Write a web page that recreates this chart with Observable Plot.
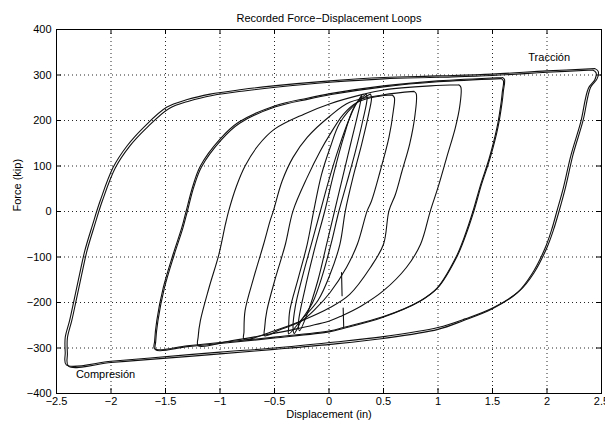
<!DOCTYPE html>
<html>
<head>
<meta charset="utf-8">
<script src="https://cdn.jsdelivr.net/npm/d3@7"></script>
<script src="https://cdn.jsdelivr.net/npm/@observablehq/plot@0.6"></script>
<style>
  html, body { margin: 0; padding: 0; background: #fff; }
</style>
</head>
<body>
<div id="chart"></div>
<script>
// ---- Tick values ----
const xTicks = [-2.5, -2, -1.5, -1, -0.5, 0, 0.5, 1, 1.5, 2, 2.5];
const yTicks = [-400, -300, -200, -100, 0, 100, 200, 300, 400];

// ---- Texts ----
const title = "Recorded Force\u2212Displacement Loops";
const xLabel = "Displacement (in)";
const yLabel = "Force (kip)";
const annotations = [
  {x: 2.02, y: 338, text: "Tracción"},
  {x: -2.05, y: -359, text: "Compresión"}
];

// ---- Loops: [displacement (in), force (kip)] ----
const loopOuterA = [[2.44,314],[2.47,308],[2.46,292],[2.40,273],[2.33,199],[2.24,126],[2.17,53],[2.11,0],[2.06,-40],[2.0,-79],[1.88,-135],[1.75,-174],[1.51,-211],[1.25,-236],[1.0,-255],[0.5,-275],[0.01,-288],[-0.5,-300],[-1.0,-309],[-1.64,-322],[-2.0,-329],[-2.41,-337],[-2.42,-310],[-2.42,-277],[-2.38,-240],[-2.34,-196],[-2.29,-140],[-2.24,-86],[-2.17,-30],[-2.10,23],[-1.98,97],[-1.85,145],[-1.70,185],[-1.49,229],[-1.30,246],[-1.09,258],[-0.80,268],[-0.51,276],[0.01,287],[0.5,294.5],[1.0,298],[1.5,302],[2.0,309],[2.44,314]];
const loopOuterB = [[2.42,311],[2.45,305],[2.44,290],[2.38,271],[2.31,197],[2.22,124],[2.15,52],[2.09,0],[2.04,-42],[1.98,-82],[1.86,-138],[1.73,-178],[1.49,-215],[1.23,-240],[1.0,-259],[0.5,-279],[0.01,-292],[-0.5,-303],[-1.0,-313],[-1.64,-325],[-2.0,-332],[-2.39,-340],[-2.40,-312],[-2.40,-278],[-2.36,-240],[-2.32,-196],[-2.27,-140],[-2.22,-86],[-2.15,-30],[-2.08,23],[-1.96,96],[-1.83,143],[-1.68,182],[-1.47,226],[-1.28,243],[-1.07,255],[-0.78,265],[-0.49,273],[0.01,284],[0.5,291.5],[1.0,295],[1.5,299],[2.0,306],[2.42,311]];
const loop16A = [[1.59,294.5],[1.61,290],[1.60,265],[1.59,243],[1.55,185],[1.48,119],[1.40,60],[1.33,1.5],[1.25,-55],[1.17,-101],[1.0,-167],[0.84,-196],[0.5,-231],[0.13,-255],[0.01,-262],[-0.5,-276],[-1.0,-288],[-1.3,-295],[-1.60,-302],[-1.60,-285],[-1.58,-240],[-1.52,-167],[-1.43,-94],[-1.35,-35],[-1.31,1.5],[-1.25,55],[-1.18,100],[-1.0,159],[-0.83,196],[-0.5,232],[-0.2,249],[0.01,259],[0.5,276],[1.0,287],[1.59,294.5]];
const loop16B = [[1.58,292],[1.60,287],[1.59,263],[1.58,241],[1.54,183],[1.47,117],[1.39,58],[1.32,0],[1.24,-57],[1.16,-103],[0.99,-169],[0.83,-198],[0.49,-233],[0.13,-257],[0.01,-264],[-0.5,-278],[-1.0,-290],[-1.3,-297],[-1.59,-304],[-1.59,-286],[-1.57,-241],[-1.51,-168],[-1.42,-95],[-1.34,-36],[-1.30,0],[-1.24,54],[-1.17,98],[-0.99,157],[-0.82,194],[-0.49,230],[-0.19,247],[0.02,257],[0.5,274],[1.0,285],[1.58,292]];
const loop12 = [[1.19,278.5],[1.21,273],[1.20,232],[1.16,185],[1.08,119],[1.0,53],[0.93,1.5],[0.84,-72],[0.71,-123],[0.5,-174],[0.3,-207],[0.12,-229],[0.01,-240],[-0.3,-258],[-0.6,-272],[-0.9,-284],[-1.20,-295],[-1.20,-275],[-1.18,-240],[-1.10,-167],[-1.01,-94],[-0.95,-28],[-0.92,1.5],[-0.85,55],[-0.77,100],[-0.65,145],[-0.5,181],[-0.23,214],[0.01,237],[0.32,258],[0.5,267],[0.93,276],[1.19,278.5]];
const loop08 = [[0.78,264],[0.80,259],[0.79,214],[0.74,148],[0.67,89],[0.61,38],[0.55,1.5],[0.50,-72],[0.38,-123],[0.19,-182],[0.01,-211],[-0.25,-240],[-0.5,-262],[-0.78,-281],[-0.78,-265],[-0.77,-218],[-0.69,-145],[-0.60,-72],[-0.54,-20],[-0.51,1.5],[-0.43,67],[-0.33,119],[-0.2,163],[0.01,210],[0.19,240],[0.5,256.5],[0.78,264]];
const loop06 = [[0.58,256],[0.60,250],[0.59,221],[0.55,163],[0.47,89],[0.39,23],[0.35,1.5],[0.26,-72],[0.16,-123],[0.01,-178],[-0.12,-213],[-0.25,-240],[-0.45,-260],[-0.59,-273],[-0.59,-255],[-0.57,-218],[-0.49,-145],[-0.40,-72],[-0.33,1.5],[-0.2,75],[-0.08,133],[0.01,170],[0.13,213],[0.26,240],[0.45,253],[0.58,256]];
const loop04 = [[0.38,258],[0.39,250],[0.37,221],[0.30,148],[0.22,75],[0.15,1.5],[0.10,-72],[0.01,-138],[-0.10,-195],[-0.25,-237],[-0.37,-269],[-0.37,-255],[-0.36,-218],[-0.28,-145],[-0.20,-72],[-0.14,1.5],[-0.07,80],[0.01,140],[0.10,195],[0.26,240],[0.38,258]];
const loop03 = [[0.34,258],[0.35,250],[0.31,200],[0.24,130],[0.16,60],[0.09,0],[0.02,-70],[-0.06,-140],[-0.15,-200],[-0.25,-238],[-0.32,-268],[-0.33,-255],[-0.31,-210],[-0.24,-140],[-0.16,-70],[-0.08,0],[0.0,70],[0.09,140],[0.18,200],[0.26,240],[0.34,258]];
const loop02 = [[0.30,255],[0.28,230],[0.20,150],[0.12,70],[0.05,0],[-0.02,-70],[-0.10,-150],[-0.20,-225],[-0.27,-262],[-0.28,-245],[-0.22,-170],[-0.13,-80],[-0.04,0],[0.04,80],[0.13,160],[0.22,225],[0.30,255]];
const stepA = [[0.115,-134],[0.12,-185]];
const stepB = [[0.13,-212],[0.135,-255]];

const loops = {loopOuterA, loopOuterB, loop16A, loop16B, loop12, loop08, loop06, loop04, loop03, loop02, stepA, stepB};
const rows = Object.entries(loops).flatMap(([name, pts]) => pts.map(([x, y]) => ({name, x, y})));

const W = 605, H = 421, mL = 56, mR = 4, mT = 29, mB = 28;
const fw = W - mL - mR, fh = H - mT - mB;
const tick = 5;
const fmt = d => (d < 0 ? "\u2212" : "") + String(Math.abs(d));

const chart = Plot.plot({
  width: W, height: H,
  marginLeft: mL, marginRight: mR, marginTop: mT, marginBottom: mB,
  x: {domain: [-2.5, 2.5]},
  y: {domain: [-400, 400]},
  style: {fontFamily: '"Liberation Sans", Arial, sans-serif', fontSize: "11px", background: "#fff", color: "#000", overflow: "visible"},
  marks: [
    Plot.ruleX(xTicks.slice(1, -1), {x: d => d, stroke: "#000", strokeOpacity: 0.85, strokeDasharray: "1,3"}),
    Plot.ruleY(yTicks.slice(1, -1), {y: d => d, stroke: "#000", strokeOpacity: 0.85, strokeDasharray: "1,3"}),
    Plot.ruleX(xTicks, {x: d => d, insetTop: fh - tick, stroke: "#000"}),
    Plot.ruleX(xTicks, {x: d => d, insetBottom: fh - tick, stroke: "#000"}),
    Plot.ruleY(yTicks, {y: d => d, insetRight: fw - tick, stroke: "#000"}),
    Plot.ruleY(yTicks, {y: d => d, insetLeft: fw - tick, stroke: "#000"}),
    Plot.line(rows, {x: "x", y: "y", z: "name", stroke: "#111", strokeWidth: 1.1, curve: "catmull-rom"}),
    Plot.frame({stroke: "#000", strokeWidth: 1}),
    Plot.axisX(xTicks, {tickSize: 0, tickPadding: 4, tickFormat: fmt, label: null}),
    Plot.axisY(yTicks, {tickSize: 0, tickPadding: 5, tickFormat: fmt, label: null}),
    Plot.text([title], {text: d => d, frameAnchor: "top", dy: -11, lineAnchor: "middle"}),
    Plot.text([xLabel], {text: d => d, frameAnchor: "bottom", dy: 21, lineAnchor: "middle"}),
    Plot.text([yLabel], {text: d => d, frameAnchor: "left", dx: -39, rotate: -90}),
    Plot.text(annotations, {x: "x", y: "y", text: "text"})
  ]
});
document.getElementById("chart").appendChild(chart);
</script>
</body>
</html>
